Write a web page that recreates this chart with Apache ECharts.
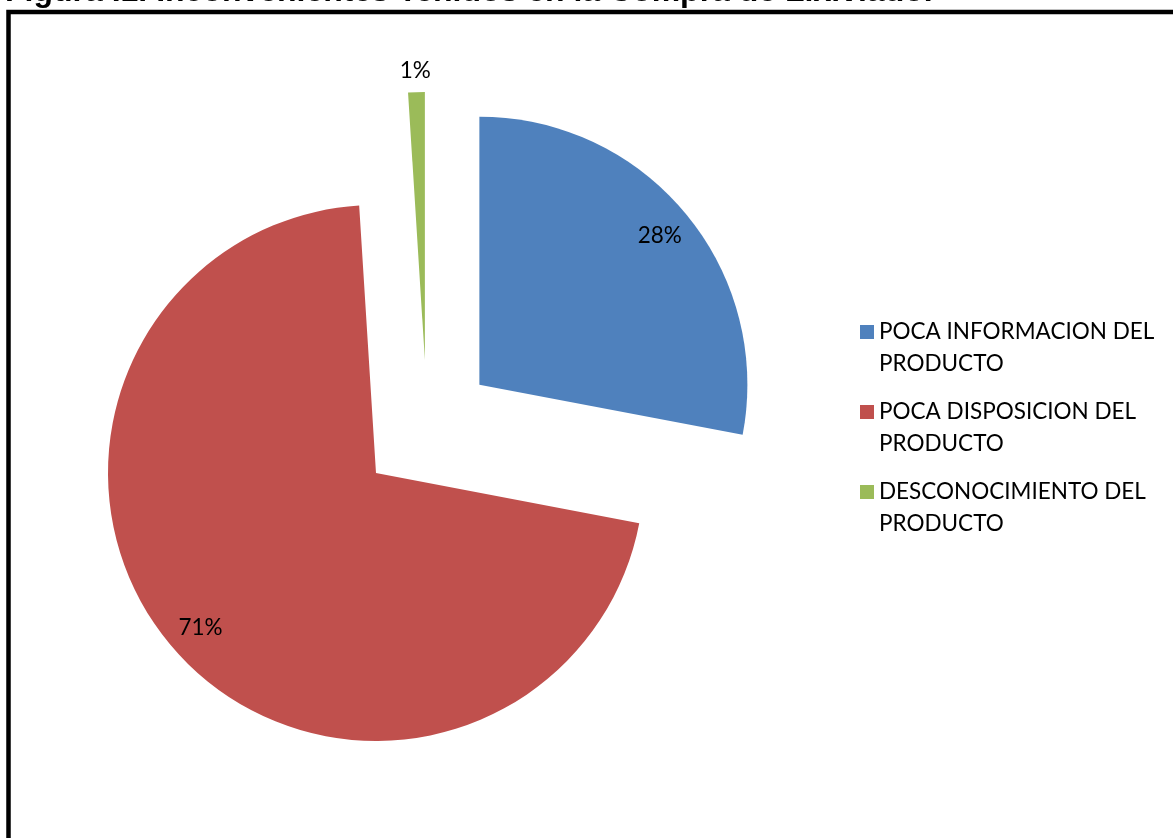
<!DOCTYPE html>
<html>
<head>
<meta charset="utf-8">
<title>Inconvenientes Tenidos en la Compra de Lixiviado</title>
<script src="https://cdn.jsdelivr.net/npm/echarts@6/dist/echarts.min.js"></script>
<style>
  html, body { margin: 0; padding: 0; background: #ffffff; }
  #chart { width: 1173px; height: 838px; }
</style>
</head>
<body>
<div id="chart"></div>
<script>
// Survey answers: problems found when buying leachate (percent of respondents)
const categories = [
  'POCA INFORMACION DEL PRODUCTO',
  'POCA DISPOSICION DEL PRODUCTO',
  'DESCONOCIMIENTO DEL PRODUCTO'
];
const percentages = [28, 71, 1];
const sliceColors = ['#4F81BD', '#C0504D', '#9BBB59'];
const titleText = 'Figura I1. Inconvenientes Tenidos en la Compra de Lixiviado.';

const pieCenter = [427, 428];
const pieRadius = 268;
const explode = 68;
const labelFont = 'Lato';

// Filled, exploded slices
const sliceData = categories.map((name, i) => ({
  name: name,
  value: percentages[i],
  selected: true,
  itemStyle: { color: sliceColors[i] }
}));

// Transparent ring on top of the slices that only carries the percent labels,
// so that "inside" labels sit near the outer edge of each slice.
const labelData = categories.map((name, i) => {
  const item = { name: name, value: percentages[i], selected: true };
  if (percentages[i] < 5) {
    // the thin slice gets its label just above its outer edge
    item.label = { position: 'outside', distanceToLabelLine: -15 };
    item.labelLine = { show: false, length: 21, length2: 0 };
  }
  return item;
});

const chart = echarts.init(document.getElementById('chart'), null, { renderer: 'canvas' });

chart.setOption({
  backgroundColor: '#ffffff',
  animation: false,
  title: {
    text: titleText,
    left: 5,
    top: -24,
    padding: 0,
    textStyle: {
      fontFamily: 'Liberation Sans',
      fontWeight: 'bold',
      fontSize: 32,
      color: '#000000'
    }
  },
  graphic: [{
    type: 'rect',
    silent: true,
    z: 100,
    shape: { x: 8.5, y: 12, width: 1400, height: 1000 },
    style: { fill: 'none', stroke: '#000000', lineWidth: 4.5 }
  }],
  legend: {
    orient: 'vertical',
    left: 860,
    top: 316,
    padding: 0,
    itemGap: 16,
    itemWidth: 14,
    itemHeight: 46,
    icon: 'path://M0,0H14V14H0Z M0,46',
    selectedMode: false,
    data: categories,
    formatter: function (name) { return name.replace(' DEL PRODUCTO', ' DEL\nPRODUCTO'); },
    textStyle: {
      fontFamily: labelFont,
      fontSize: 22.5,
      lineHeight: 32,
      color: '#000000'
    }
  },
  series: [
    {
      name: 'slices',
      type: 'pie',
      center: pieCenter,
      radius: [0, pieRadius],
      startAngle: 90,
      clockwise: true,
      selectedMode: 'multiple',
      selectedOffset: explode,
      avoidLabelOverlap: false,
      silent: true,
      label: { show: false },
      labelLine: { show: false },
      emphasis: { disabled: true },
      itemStyle: { borderWidth: 0 },
      data: sliceData
    },
    {
      name: 'labels',
      type: 'pie',
      center: pieCenter,
      radius: [194, pieRadius],
      startAngle: 90,
      clockwise: true,
      selectedMode: 'multiple',
      selectedOffset: explode,
      avoidLabelOverlap: false,
      silent: true,
      emphasis: { disabled: true },
      itemStyle: { color: 'rgba(0,0,0,0)', borderWidth: 0 },
      label: {
        show: true,
        position: 'inside',
        formatter: '{c}%',
        fontFamily: labelFont,
        fontSize: 22.5,
        color: '#000000'
      },
      labelLine: { show: false },
      data: labelData
    }
  ]
});
</script>
</body>
</html>
